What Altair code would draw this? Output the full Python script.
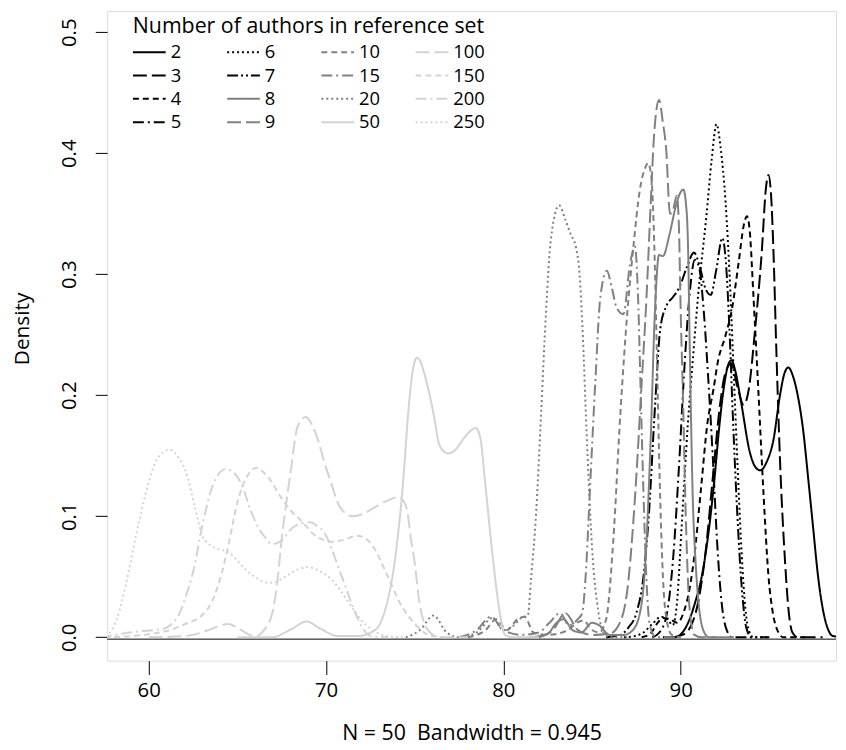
import altair as alt
import pandas as pd

FONT = "Open Sans"

# ---- series (number of authors in reference set) ----
order_names = ["2", "3", "4", "5", "6", "7", "8", "9", "10", "15", "20", "50", "100", "150", "200", "250"]

x_2 = [89.0, 89.65, 90.2, 90.8, 91.25, 91.6, 91.9, 92.15, 92.45, 92.7, 92.87, 93.05, 93.4, 93.9, 94.2, 94.49, 94.85, 95.23, 95.6, 95.85, 96.07, 96.35, 96.6, 96.9, 97.2, 97.46, 97.75, 98.02, 98.3, 98.6, 99.5]
y_2 = [0.0, 0.0, 0.006, 0.028, 0.055, 0.09, 0.13, 0.17, 0.208, 0.226, 0.229, 0.222, 0.195, 0.153, 0.141, 0.138, 0.145, 0.163, 0.2, 0.218, 0.223, 0.215, 0.2, 0.172, 0.13, 0.092, 0.05, 0.023, 0.007, 0.001, 0.0]

x_3 = [89.5, 90.1, 90.6, 91.0, 91.4, 91.8, 92.2, 92.55, 92.85, 93.2, 93.55, 93.84, 94.2, 94.58, 94.8, 94.95, 95.1, 95.23, 95.4, 95.6, 95.88, 96.1, 96.3, 96.6, 98.0]
y_3 = [0.0, 0.002, 0.01, 0.03, 0.07, 0.13, 0.19, 0.22, 0.226, 0.207, 0.192, 0.205, 0.255, 0.32, 0.37, 0.382, 0.365, 0.32, 0.235, 0.147, 0.064, 0.02, 0.004, 0.0, 0.0]

x_4 = [87.8, 88.3, 88.7, 89.0, 89.4, 89.8, 90.2, 90.5, 90.77, 91.14, 91.51, 91.85, 92.1, 92.5, 92.9, 93.28, 93.55, 93.74, 93.9, 94.1, 94.39, 94.67, 94.95, 95.2, 95.45, 95.8, 97.0]
y_4 = [0.0, 0.003, 0.012, 0.016, 0.015, 0.012, 0.022, 0.04, 0.067, 0.122, 0.177, 0.205, 0.228, 0.248, 0.272, 0.311, 0.34, 0.348, 0.335, 0.283, 0.201, 0.119, 0.051, 0.02, 0.006, 0.0, 0.0]

x_5 = [88.4, 88.8, 89.2, 89.6, 89.9, 90.2, 90.5, 90.8, 91.05, 91.3, 91.55, 91.8, 92.07, 92.3, 92.55, 92.9, 94.0]
y_5 = [0.0, 0.004, 0.018, 0.07, 0.14, 0.22, 0.283, 0.312, 0.305, 0.27, 0.215, 0.152, 0.075, 0.03, 0.008, 0.0, 0.0]

x_6 = [86.8, 87.4, 87.9, 88.4, 88.9, 89.3, 89.55, 89.8, 90.05, 90.4, 90.7, 91.0, 91.45, 91.75, 92.02, 92.25, 92.53, 92.81, 93.0, 93.2, 93.4, 93.6, 93.8, 94.1, 95.0]
y_6 = [0.0, 0.001, 0.004, 0.011, 0.017, 0.014, 0.01, 0.03, 0.09, 0.175, 0.232, 0.285, 0.348, 0.395, 0.424, 0.405, 0.36, 0.283, 0.215, 0.145, 0.08, 0.032, 0.008, 0.0, 0.0]

x_7 = [85.8, 86.6, 87.05, 87.5, 87.9, 88.2, 88.55, 88.85, 89.2, 89.56, 89.95, 90.35, 90.75, 91.1, 91.4, 91.7, 92.0, 92.35, 92.55, 92.75, 92.95, 93.2, 93.45, 93.7, 94.0, 95.0]
y_7 = [0.0, 0.002, 0.008, 0.02, 0.05, 0.1, 0.19, 0.255, 0.274, 0.281, 0.29, 0.306, 0.318, 0.305, 0.288, 0.283, 0.303, 0.33, 0.31, 0.255, 0.18, 0.1, 0.04, 0.008, 0.0, 0.0]

x_8 = [81.5, 82.5, 83.0, 83.4, 83.9, 84.4, 85.0, 85.4, 86.0, 86.8, 87.3, 87.7, 88.0, 88.3, 88.55, 88.78, 89.0, 89.37, 89.74, 90.0, 90.15, 90.3, 90.42, 90.5, 90.67, 90.85, 91.0, 91.3, 91.6, 93.0]
y_8 = [0.0, 0.003, 0.012, 0.015, 0.006, 0.004, 0.012, 0.01, 0.002, 0.002, 0.006, 0.02, 0.06, 0.16, 0.27, 0.316, 0.315, 0.333, 0.357, 0.368, 0.37, 0.358, 0.32, 0.25, 0.122, 0.06, 0.03, 0.005, 0.0, 0.0]

x_9 = [82.0, 82.8, 83.5, 84.2, 85.0, 86.0, 86.5, 87.0, 87.4, 87.8, 88.07, 88.3, 88.5, 88.78, 89.0, 89.18, 89.4, 89.55, 89.78, 89.9, 90.0, 90.12, 90.3, 90.49, 90.77, 91.2, 92.0]
y_9 = [0.0, 0.006, 0.02, 0.006, 0.002, 0.003, 0.01, 0.04, 0.11, 0.21, 0.28, 0.355, 0.415, 0.444, 0.425, 0.404, 0.35, 0.352, 0.365, 0.34, 0.27, 0.204, 0.094, 0.026, 0.002, 0.0, 0.0]

x_10 = [78.0, 79.0, 79.6, 80.2, 80.8, 81.2, 81.7, 82.5, 83.5, 84.5, 85.0, 85.4, 85.8, 86.2, 86.6, 87.0, 87.33, 87.7, 88.0, 88.16, 88.35, 88.5, 88.65, 88.8, 89.0, 89.2, 89.5, 90.0]
y_10 = [0.0, 0.006, 0.015, 0.006, 0.015, 0.017, 0.004, 0.002, 0.005, 0.014, 0.006, 0.004, 0.015, 0.08, 0.185, 0.27, 0.322, 0.37, 0.388, 0.392, 0.38, 0.33, 0.24, 0.14, 0.05, 0.015, 0.002, 0.0]

x_15 = [77.5, 78.5, 79.3, 80.0, 81.0, 82.0, 82.6, 83.2, 83.7, 84.2, 84.45, 84.63, 84.91, 85.19, 85.47, 85.84, 86.1, 86.4, 86.77, 87.14, 87.42, 87.6, 87.75, 87.9, 88.07, 88.26, 88.6, 90.0]
y_15 = [0.0, 0.006, 0.017, 0.006, 0.002, 0.004, 0.012, 0.02, 0.01, 0.015, 0.02, 0.048, 0.13, 0.212, 0.281, 0.303, 0.29, 0.272, 0.267, 0.308, 0.323, 0.28, 0.2, 0.12, 0.048, 0.01, 0.0, 0.0]

x_20 = [74.5, 75.3, 76.06, 76.8, 77.5, 78.5, 79.4, 80.0, 80.6, 81.0, 81.38, 81.56, 81.85, 82.13, 82.4, 82.69, 83.15, 83.5, 83.8, 84.1, 84.3, 84.45, 84.73, 85.0, 85.37, 85.65, 86.0, 87.0]
y_20 = [0.0, 0.006, 0.018, 0.004, 0.0, 0.004, 0.016, 0.006, 0.01, 0.016, 0.018, 0.048, 0.103, 0.185, 0.267, 0.33, 0.357, 0.345, 0.333, 0.322, 0.3, 0.26, 0.157, 0.075, 0.02, 0.004, 0.0, 0.0]

x_50 = [65.0, 66.95, 68.07, 68.9, 69.7, 70.67, 71.8, 72.53, 73.0, 73.28, 73.55, 73.8, 74.1, 74.39, 74.58, 74.76, 74.95, 75.13, 75.35, 75.6, 75.85, 76.06, 76.42, 76.9, 77.3, 77.7, 78.1, 78.45, 78.7, 78.96, 79.34, 79.8, 80.1, 80.6, 82.0]
y_50 = [0.0, 0.0, 0.007, 0.013, 0.007, 0.001, 0.001, 0.004, 0.01, 0.02, 0.035, 0.055, 0.09, 0.136, 0.175, 0.205, 0.225, 0.231, 0.227, 0.215, 0.2, 0.185, 0.158, 0.152, 0.155, 0.163, 0.17, 0.173, 0.165, 0.13, 0.075, 0.0205, 0.002, 0.0, 0.0]

x_100 = [60.0, 62.0, 63.0, 63.54, 64.48, 65.22, 65.7, 66.05, 66.5, 66.97, 67.25, 67.5, 67.75, 68.0, 68.4, 68.86, 69.2, 69.55, 69.9, 70.3, 70.7, 71.05, 71.5, 72.1, 72.7, 73.63, 74.1, 74.4, 74.6, 74.8, 74.95, 75.3, 75.8, 76.4, 78.0]
y_100 = [0.0, 0.001, 0.004, 0.007, 0.011, 0.006, 0.002, 0.001, 0.006, 0.02, 0.045, 0.081, 0.11, 0.136, 0.174, 0.182, 0.176, 0.163, 0.145, 0.127, 0.11, 0.103, 0.1, 0.102, 0.107, 0.114, 0.116, 0.112, 0.103, 0.08, 0.067, 0.026, 0.005, 0.0, 0.0]

x_150 = [57.5, 59.0, 60.2, 61.2, 62.06, 62.99, 63.4, 63.73, 64.1, 64.48, 65.03, 65.59, 66.05, 66.7, 67.45, 68.0, 68.56, 69.5, 70.42, 71.1, 71.73, 72.2, 72.66, 73.4, 74.15, 75.08, 76.0, 77.0]
y_150 = [0.0, 0.001, 0.003, 0.006, 0.011, 0.018, 0.025, 0.035, 0.052, 0.075, 0.113, 0.134, 0.14, 0.133, 0.116, 0.105, 0.097, 0.083, 0.079, 0.081, 0.084, 0.082, 0.075, 0.053, 0.029, 0.01, 0.001, 0.0]

x_200 = [57.3, 58.5, 59.5, 60.3, 60.82, 61.3, 61.75, 62.1, 62.49, 63.05, 63.6, 64.35, 64.8, 65.28, 65.75, 66.21, 66.6, 66.95, 67.5, 68.06, 68.6, 69.09, 69.5, 69.93, 70.3, 70.67, 71.05, 71.42, 71.97, 72.53, 73.5]
y_200 = [0.0, 0.003, 0.005, 0.006, 0.007, 0.011, 0.02, 0.034, 0.053, 0.094, 0.125, 0.139, 0.136, 0.125, 0.105, 0.09, 0.082, 0.077, 0.08, 0.09, 0.094, 0.095, 0.092, 0.086, 0.074, 0.059, 0.044, 0.029, 0.01, 0.001, 0.0]

x_250 = [57.0, 57.66, 58.2, 58.78, 59.3, 59.89, 60.5, 61.19, 61.7, 62.12, 62.6, 63.05, 63.6, 64.54, 65.47, 66.2, 66.77, 67.2, 67.69, 68.4, 69.0, 69.6, 70.3, 70.9, 71.4, 72.0, 72.53, 73.46, 74.5]
y_250 = [0.0, 0.002, 0.015, 0.048, 0.085, 0.122, 0.148, 0.155, 0.148, 0.136, 0.108, 0.083, 0.075, 0.07, 0.056, 0.048, 0.045, 0.046, 0.05, 0.056, 0.058, 0.055, 0.048, 0.037, 0.026, 0.014, 0.007, 0.001, 0.0]

xs = [x_2, x_3, x_4, x_5, x_6, x_7, x_8, x_9, x_10, x_15, x_20, x_50, x_100, x_150, x_200, x_250]
ys = [y_2, y_3, y_4, y_5, y_6, y_7, y_8, y_9, y_10, y_15, y_20, y_50, y_100, y_150, y_200, y_250]

rows = []
for name, xv, yv in zip(order_names, xs, ys):
    for i, (a, b) in enumerate(zip(xv, yv)):
        rows.append({"series": name, "x": a, "y": b, "i": i})
df = pd.DataFrame(rows)

# styles per series
black, gray, light = "#000000", "#808080", "#d3d3d3"
solid, longdash, dashed, dotdash, dotted, twodash = [1, 0], [14, 5], [6, 4], [11, 4, 2, 4], [2, 3], [11, 3, 2, 3, 2, 3]
style = {
    "2": (black, solid), "3": (black, longdash), "4": (black, dashed), "5": (black, dotdash),
    "6": (black, dotted), "7": (black, twodash),
    "8": (gray, solid), "9": (gray, longdash), "10": (gray, dashed), "15": (gray, dotdash), "20": (gray, dotted),
    "50": (light, solid), "100": (light, longdash), "150": (light, dashed), "200": (light, dotdash), "250": (light, dotted),
}
color_range = [style[k][0] for k in order_names]
dash_range = [style[k][1] for k in order_names]

x_domain = [57.66, 98.76]
y_domain = [-0.01926, 0.5175]
x_ticks = [60, 70, 80, 90]
y_ticks = [0.0, 0.1, 0.2, 0.3, 0.4, 0.5]
zero_line = [-0.0015]

leg = alt.Legend(
    title="Number of authors in reference set",
    orient="none", legendX=25, legendY=5, columns=4, direction="vertical",
    symbolType="stroke", symbolSize=1089, symbolStrokeWidth=2,
    labelFont=FONT, titleFont=FONT, labelFontSize=18.5, titleFontSize=21.5,
    titleFontWeight="normal", titleColor="black", labelColor="black",
    columnPadding=24, rowPadding=3.5, clipHeight=20, labelOffset=4, padding=0,
    gridAlign="all", titleAnchor="middle", titlePadding=5, titleLimit=600, labelLimit=200,
)

xscale = alt.Scale(domain=x_domain, nice=False, zero=False)
yscale = alt.Scale(domain=y_domain, nice=False, zero=False)

rule = alt.Chart(pd.DataFrame({"y": zero_line})).mark_rule(color="black", strokeWidth=1).encode(
    y=alt.Y("y:Q", scale=yscale)
)

lines = alt.Chart(df).mark_line(strokeWidth=2, interpolate="monotone", clip=True).encode(
    x=alt.X("x:Q", scale=xscale,
            axis=alt.Axis(values=x_ticks, title="N = 50\u00a0 Bandwidth = 0.945", grid=False, domain=False,
                          tickSize=14, tickColor="black", labelPadding=6, labelFontSize=20.5, labelFont=FONT,
                          labelColor="black", titleFont=FONT, titleFontSize=21.5, titleFontWeight="normal",
                          titleColor="black", titleY=74, titleBaseline="middle")),
    y=alt.Y("y:Q", scale=yscale,
            axis=alt.Axis(values=y_ticks, format=".1f", title="Density", grid=False, domain=False,
                          tickSize=12, tickColor="black", labelAngle=-90, labelAlign="center",
                          labelBaseline="alphabetic", labelPadding=20, labelFontSize=20.5, labelFont=FONT,
                          labelColor="black", titleFont=FONT, titleFontSize=21, titleFontWeight="normal",
                          titleColor="black", titleAngle=-90, titleX=-79, titleY=320,
                          titleAlign="center", titleBaseline="alphabetic")),
    color=alt.Color("series:N", scale=alt.Scale(domain=order_names, range=color_range), legend=leg),
    strokeDash=alt.StrokeDash("series:N", scale=alt.Scale(domain=order_names, range=dash_range), legend=leg),
    order=alt.Order("i:Q"),
    detail="series:N",
)

chart = alt.layer(rule, lines).properties(
    width=735, height=655,
    autosize=alt.AutoSizeParams(type="none"),
    padding={"left": 100, "top": 0, "right": 2, "bottom": 85},
).configure_view(stroke="black", strokeWidth=1).configure(background="white")

chart.save("out.html", embed_options={"renderer": "svg", "actions": False})
